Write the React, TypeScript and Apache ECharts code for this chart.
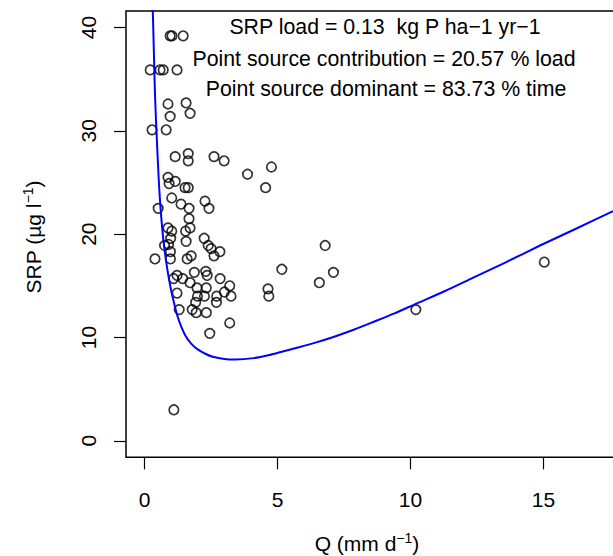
import React, { useEffect, useRef } from "react";
import * as echarts from "echarts";

// Observed data (Q in mm d-1, SRP in µg l-1)
const qObs = [
  0.96, 1.03, 1.45, 0.21, 0.58, 0.70, 1.22, 0.88, 1.56, 0.96,
  1.71, 0.28, 0.81, 1.15, 1.64, 1.64, 2.61, 2.99, 3.87, 4.77,
  4.55, 0.88, 1.15, 0.92, 1.52, 1.64, 1.02, 1.37, 1.67, 2.27,
  2.42, 0.51, 1.67, 0.88, 1.02, 1.71, 1.54, 2.24, 0.98, 1.56,
  0.75, 0.90, 2.39, 2.50, 2.83, 2.61, 0.97, 0.97, 0.39, 1.60,
  1.75, 1.87, 2.30, 2.35, 1.22, 1.09, 1.43, 1.71, 2.84, 3.20,
  1.97, 2.32, 1.22, 1.99, 2.25, 3.00, 2.71, 3.25, 2.70, 1.92,
  1.30, 1.79, 1.94, 2.32, 3.20, 2.45, 10.20, 1.10, 6.79, 5.16,
  7.10, 6.57, 4.64, 4.67, 15.03,
];
const srpObs = [
  39.2, 39.2, 39.2, 35.9, 35.9, 35.9, 35.9, 32.6, 32.7, 31.4,
  31.7, 30.1, 30.1, 27.5, 27.8, 27.1, 27.5, 27.1, 25.8, 26.5,
  24.5, 25.5, 25.1, 24.9, 24.5, 24.5, 23.5, 22.9, 22.5, 23.2,
  22.5, 22.5, 21.5, 20.6, 20.3, 20.6, 20.3, 19.6, 19.6, 19.3,
  18.9, 19.0, 18.9, 18.6, 18.3, 17.9, 18.3, 17.6, 17.6, 17.6,
  17.9, 16.3, 16.4, 16.0, 16.0, 15.7, 15.7, 15.3, 15.7, 15.0,
  14.8, 14.8, 14.3, 14.0, 14.0, 14.4, 14.0, 14.0, 13.4, 13.4,
  12.7, 12.7, 12.4, 12.4, 11.4, 10.4, 12.7, 3.0, 18.9, 16.6,
  16.3, 15.3, 14.7, 14.0, 17.3,
];

// Fitted model curve
const curveQ = [
  0.28, 0.32, 0.39, 0.47, 0.56, 0.69, 0.83, 0.97, 1.10, 1.22,
  1.37, 1.53, 1.75, 1.97, 2.30, 2.60, 3.00, 3.40, 4.11, 4.70,
  5.23, 5.80, 6.36, 7.10, 7.86, 8.60, 9.37, 10.24, 11.30, 12.36,
  13.60, 14.87, 16.20, 17.60, 18.20,
];
const curveSrp = [
  43.5, 40.5, 33.5, 28.6, 24.0, 19.8, 17.0, 14.9, 13.4, 12.2,
  11.1, 10.2, 9.4, 8.9, 8.4, 8.1, 7.92, 7.87, 8.0, 8.3,
  8.67, 9.05, 9.45, 10.05, 10.75, 11.5, 12.3, 13.3, 14.5, 15.8,
  17.3, 18.9, 20.5, 22.2, 22.9,
];

const xTicks = [0, 5, 10, 15];
const yTicks = [0, 10, 20, 30, 40];

const annot1 = "SRP load = 0.13  kg P ha\u22121 yr\u22121";
const annot2 = "Point source contribution = 20.57 % load";
const annot3 = "Point source dominant = 83.73 % time";

const FONT = "'Liberation Sans', Arial, Helvetica, sans-serif";
const FS = 21;
const FS_ANNOT = 21.3;

export default function App() {
  const ref = useRef<HTMLDivElement>(null);
  useEffect(() => {
    if (!ref.current) return;
    const chart = echarts.init(ref.current, undefined, { renderer: "svg" });
    const scatterData = qObs.map((q, i) => [q, srpObs[i]]);
    const curveData = curveQ.map((q, i) => [q, curveSrp[i]]);
    chart.setOption({
      animation: false,
      backgroundColor: "#ffffff",
      textStyle: { fontFamily: FONT },
      grid: {
        left: 126,
        top: 11,
        width: 502.6,
        height: 446.3,
        show: true,
        borderColor: "#000",
        borderWidth: 1.5,
        backgroundColor: "transparent",
      },
      xAxis: {
        type: "value",
        min: -0.7,
        max: 18.2,
        axisLine: { show: false, onZero: false },
        splitLine: { show: false },
        axisTick: {
          show: true,
          customValues: xTicks,
          length: 12,
          inside: false,
          lineStyle: { color: "#000", width: 1.2 },
        },
        axisLabel: {
          customValues: xTicks,
          color: "#000",
          fontSize: FS,
          fontFamily: FONT,
          margin: 32,
        },
      },
      yAxis: {
        type: "value",
        min: -1.6,
        max: 41.6,
        axisLine: { show: false, onZero: false },
        splitLine: { show: false },
        axisTick: {
          show: true,
          customValues: yTicks,
          length: 12,
          inside: false,
          lineStyle: { color: "#000", width: 1.2 },
        },
        axisLabel: {
          customValues: yTicks,
          color: "#000",
          fontSize: FS,
          fontFamily: FONT,
          rotate: 90,
          margin: 27,
          align: "center",
          verticalAlign: "bottom",
        },
      },
      series: [
        {
          type: "scatter",
          data: scatterData,
          symbol: "circle",
          symbolSize: 9.5,
          itemStyle: {
            color: "rgba(0,0,0,0)",
            borderColor: "#000",
            borderWidth: 1.7,
          },
          z: 2,
        },
        {
          type: "line",
          data: curveData,
          showSymbol: false,
          smooth: 0.25,
          clip: true,
          lineStyle: { color: "#0000ff", width: 2 },
          z: 3,
        },
      ],
      graphic: [
        {
          type: "text",
          x: 385,
          y: 27,
          style: {
            text: annot1,
            fontSize: FS_ANNOT,
            fontFamily: FONT,
            fill: "#000",
            align: "center",
            verticalAlign: "middle",
          },
        },
        {
          type: "text",
          x: 384,
          y: 59,
          style: {
            text: annot2,
            fontSize: FS_ANNOT,
            fontFamily: FONT,
            fill: "#000",
            align: "center",
            verticalAlign: "middle",
          },
        },
        {
          type: "text",
          x: 386,
          y: 89,
          style: {
            text: annot3,
            fontSize: FS_ANNOT,
            fontFamily: FONT,
            fill: "#000",
            align: "center",
            verticalAlign: "middle",
          },
        },
        {
          type: "text",
          x: 367,
          y: 543,
          style: {
            text: "{a|Q (mm d}{b|\u22121}{a|)}",
            fontFamily: FONT,
            fill: "#000",
            align: "center",
            verticalAlign: "middle",
            rich: {
              a: { fontSize: FS, fontFamily: FONT, fill: "#000" },
              b: { fontSize: 14, fontFamily: FONT, fill: "#000", padding: [0, 0, 10, 0] },
            },
          },
        },
        {
          type: "text",
          x: 33,
          y: 237,
          rotation: Math.PI / 2,
          style: {
            text: "{a|SRP (\u00b5g l}{b|\u22121}{a|)}",
            fontFamily: FONT,
            fill: "#000",
            align: "center",
            verticalAlign: "middle",
            rich: {
              a: { fontSize: FS, fontFamily: FONT, fill: "#000" },
              b: { fontSize: 14, fontFamily: FONT, fill: "#000", padding: [0, 0, 10, 0] },
            },
          },
        },
      ],
    });
    return () => chart.dispose();
  }, []);
  return (
    <div
      style={{
        position: "absolute",
        left: 0,
        top: 0,
        width: 613,
        height: 556,
        overflow: "hidden",
        background: "#fff",
      }}
    >
      <div ref={ref} style={{ width: 640, height: 556 }} />
    </div>
  );
}
